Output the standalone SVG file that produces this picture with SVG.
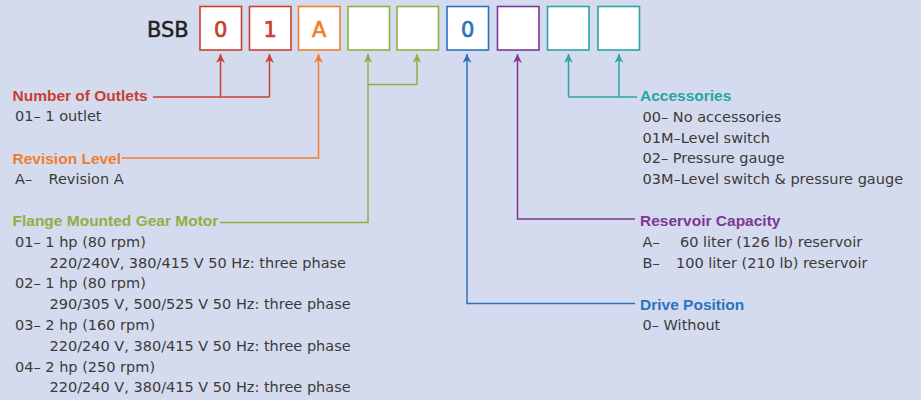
<svg xmlns="http://www.w3.org/2000/svg" width="921" height="400" viewBox="0 0 921 400">
<defs>
<style>
.bg{fill:#d5dbee}
.box{fill:#ffffff;stroke-width:1.6}
.code{font-family:"DejaVu Sans",sans-serif;font-size:21px;text-anchor:middle;stroke-width:0.7}
.bsb{font-family:"DejaVu Sans",sans-serif;font-size:21px;fill:#222222;stroke:#222222;stroke-width:0.5}
.lbl{font-family:"Liberation Sans",Arial,sans-serif;font-weight:bold;font-size:15.5px}
.txt{font-family:"DejaVu Sans",sans-serif;font-size:14.5px;fill:#3a3a3a}
.ln{fill:none;stroke-width:1.5}
.red{stroke:#c8402f}
.org{stroke:#f07d2e}
.grn{stroke:#8db043}
.blu{stroke:#2b74bd}
.pur{stroke:#7d3795}
.tea{stroke:#27a6a2}
</style>
<marker id="aRed" viewBox="0 0 10 10" refX="10" refY="5" markerWidth="9" markerHeight="9" markerUnits="userSpaceOnUse" orient="auto"><path d="M0,0 L10,5 L0,10 L3,5 z" fill="#c8402f"/></marker>
<marker id="aOrg" viewBox="0 0 10 10" refX="10" refY="5" markerWidth="9" markerHeight="9" markerUnits="userSpaceOnUse" orient="auto"><path d="M0,0 L10,5 L0,10 L3,5 z" fill="#f07d2e"/></marker>
<marker id="aGrn" viewBox="0 0 10 10" refX="10" refY="5" markerWidth="9" markerHeight="9" markerUnits="userSpaceOnUse" orient="auto"><path d="M0,0 L10,5 L0,10 L3,5 z" fill="#8db043"/></marker>
<marker id="aBlu" viewBox="0 0 10 10" refX="10" refY="5" markerWidth="9" markerHeight="9" markerUnits="userSpaceOnUse" orient="auto"><path d="M0,0 L10,5 L0,10 L3,5 z" fill="#2b74bd"/></marker>
<marker id="aPur" viewBox="0 0 10 10" refX="10" refY="5" markerWidth="9" markerHeight="9" markerUnits="userSpaceOnUse" orient="auto"><path d="M0,0 L10,5 L0,10 L3,5 z" fill="#7d3795"/></marker>
<marker id="aTea" viewBox="0 0 10 10" refX="10" refY="5" markerWidth="9" markerHeight="9" markerUnits="userSpaceOnUse" orient="auto"><path d="M0,0 L10,5 L0,10 L3,5 z" fill="#27a6a2"/></marker>
</defs>
<rect class="bg" x="0" y="0" width="921" height="400"/>

<g id="prefix"><text class="bsb" x="147" y="37">BSB</text></g>

<g id="box1"><rect class="box red" x="200" y="6.5" width="41.5" height="43.5"/><text class="code" x="220.8" y="37" fill="#c8402f" stroke="#c8402f">0</text></g>
<g id="box2"><rect class="box red" x="249.5" y="6.5" width="41.5" height="43.5"/><text class="code" x="270.2" y="37" fill="#c8402f" stroke="#c8402f">1</text></g>
<g id="box3"><rect class="box org" x="298.5" y="6.5" width="41.5" height="43.5"/><text class="code" x="319.2" y="37" fill="#f07d2e" stroke="#f07d2e">A</text></g>
<g id="box4"><rect class="box grn" x="348" y="6.5" width="41.5" height="43.5"/></g>
<g id="box5"><rect class="box grn" x="397" y="6.5" width="41.5" height="43.5"/></g>
<g id="box6"><rect class="box blu" x="447" y="6.5" width="41.5" height="43.5"/><text class="code" x="467.8" y="37" fill="#2b74bd" stroke="#2b74bd">0</text></g>
<g id="box7"><rect class="box pur" x="497.5" y="6.5" width="41.5" height="43.5"/></g>
<g id="box8"><rect class="box tea" x="547.5" y="6.5" width="41.5" height="43.5"/></g>
<g id="box9"><rect class="box tea" x="598" y="6.5" width="41.5" height="43.5"/></g>

<g id="connectors">
<path class="ln red" d="M220.5,97 V54" marker-end="url(#aRed)"/>
<path class="ln red" d="M269.5,97 V54" marker-end="url(#aRed)"/>
<path class="ln red" d="M153,97 H269.5"/>
<path class="ln org" d="M122,158 H318.5 V54" marker-end="url(#aOrg)"/>
<path class="ln grn" d="M368,84.5 V54" marker-end="url(#aGrn)"/>
<path class="ln grn" d="M417,84.5 V54" marker-end="url(#aGrn)"/>
<path class="ln grn" d="M368,84.5 H417"/>
<path class="ln grn" d="M220,222.5 H368 V84.5"/>
<path class="ln blu" d="M635,303.5 H467 V54" marker-end="url(#aBlu)"/>
<path class="ln pur" d="M635,219 H517.5 V54" marker-end="url(#aPur)"/>
<path class="ln tea" d="M568.5,97 V54" marker-end="url(#aTea)"/>
<path class="ln tea" d="M619,97 V54" marker-end="url(#aTea)"/>
<path class="ln tea" d="M568.5,97 H637"/>
</g>

<g id="outlets">
<text class="lbl" x="12.5" y="100.5" fill="#c8402f">Number of Outlets</text>
<text class="txt" x="15" y="121">01– 1 outlet</text>
</g>

<g id="revision">
<text class="lbl" x="12.5" y="163.5" fill="#f07d2e">Revision Level</text>
<text class="txt" x="15" y="184">A–</text>
<text class="txt" x="48.5" y="184">Revision A</text>
</g>

<g id="motor">
<text class="lbl" x="12.5" y="226" fill="#8db043">Flange Mounted Gear Motor</text>
<text class="txt" x="15" y="246.8">01– 1 hp (80 rpm)</text>
<text class="txt" x="49.5" y="267.6">220/240V, 380/415 V 50 Hz: three phase</text>
<text class="txt" x="15" y="288.4">02– 1 hp (80 rpm)</text>
<text class="txt" x="49.5" y="309.2">290/305 V, 500/525 V 50 Hz: three phase</text>
<text class="txt" x="15" y="330">03– 2 hp (160 rpm)</text>
<text class="txt" x="49.5" y="350.8">220/240 V, 380/415 V 50 Hz: three phase</text>
<text class="txt" x="15" y="371.6">04– 2 hp (250 rpm)</text>
<text class="txt" x="49.5" y="392.4">220/240 V, 380/415 V 50 Hz: three phase</text>
</g>

<g id="accessories">
<text class="lbl" x="640" y="101" fill="#27a6a2">Accessories</text>
<text class="txt" x="642.5" y="121.8">00– No accessories</text>
<text class="txt" x="642.5" y="142.6">01M–Level switch</text>
<text class="txt" x="642.5" y="163.4">02– Pressure gauge</text>
<text class="txt" x="642.5" y="184.2">03M–Level switch &amp; pressure gauge</text>
</g>

<g id="reservoir">
<text class="lbl" x="640" y="226" fill="#7d3795">Reservoir Capacity</text>
<text class="txt" x="642.5" y="246.8">A–</text>
<text class="txt" x="680" y="246.8">60 liter (126 lb) reservoir</text>
<text class="txt" x="642.5" y="267.6">B–</text>
<text class="txt" x="676" y="267.6">100 liter (210 lb) reservoir</text>
</g>

<g id="drive">
<text class="lbl" x="640" y="309.5" fill="#2b74bd">Drive Position</text>
<text class="txt" x="642.5" y="330.2">0– Without</text>
</g>
</svg>
